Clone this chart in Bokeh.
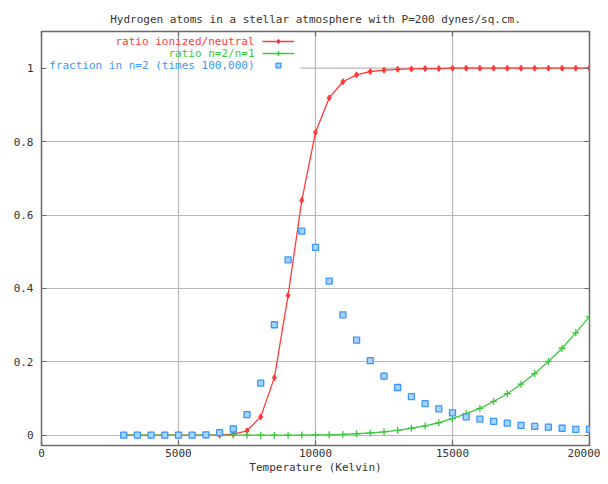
from bokeh.plotting import figure
from bokeh.models import Range1d, FixedTicker, LinearAxis, Legend, LegendItem, Label
from bokeh.embed import file_html
from bokeh.resources import INLINE

# ---------------- data ----------------
temperature = [3000, 3500, 4000, 4500, 5000, 5500, 6000, 6500, 7000, 7500,
               8000, 8500, 9000, 9500, 10000, 10500, 11000, 11500, 12000, 12500,
               13000, 13500, 14000, 14500, 15000, 15500, 16000, 16500, 17000, 17500,
               18000, 18500, 19000, 19500, 20000]

ratio_ionized = [0.0, 0.0, 0.0, 0.0, 0.0, 0.0, 0.0001, 0.0007, 0.003, 0.012,
                 0.050, 0.157, 0.381, 0.640, 0.825, 0.919, 0.963, 0.982, 0.991, 0.995,
                 0.997, 0.998, 0.999, 0.999, 1.0, 1.0, 1.0, 1.0, 1.0, 1.0,
                 1.0, 1.0, 1.0, 1.0, 1.0]

ratio_n2_n1 = [0.0, 0.0, 0.0, 0.0, 0.0, 0.0, 0.0, 0.0, 0.0, 0.0,
               0.0, 0.0001, 0.0002, 0.0004, 0.0009, 0.0015, 0.0025, 0.004, 0.0063, 0.0093,
               0.0134, 0.019, 0.0256, 0.034, 0.045, 0.059, 0.073, 0.092, 0.113, 0.139,
               0.168, 0.201, 0.237, 0.279, 0.323]

fraction_n2 = [0.0, 0.0, 0.0, 0.0, 0.0, 0.0, 0.001, 0.007, 0.017, 0.056,
               0.142, 0.301, 0.478, 0.556, 0.512, 0.420, 0.328, 0.259, 0.203, 0.161,
               0.130, 0.105, 0.086, 0.072, 0.061, 0.050, 0.044, 0.038, 0.033, 0.027,
               0.024, 0.022, 0.019, 0.016, 0.016]

series_labels = ["ratio ionized/neutral", "ratio n=2/n=1", "fraction in n=2 (times 100,000)"]
title_text = "Hydrogen atoms in a stellar atmosphere with P=200 dynes/sq.cm."
x_label = "Temperature (Kelvin)"

x_ticks = [0, 5000, 10000, 15000, 20000]
x_tick_labels = ["0", "5000", "10000", "15000", "20000"]
y_ticks = [0, 0.2, 0.4, 0.6, 0.8, 1]
y_tick_labels = ["0", "0.2", "0.4", "0.6", "0.8", "1"]

# ---------------- style ----------------
FONT = "DejaVu Sans Mono"
FS = "11px"
RED = "#ff3a3a"
GREEN = "#3cc83c"
BLUE = "#3a96ff"
GRID = "#b8b8b8"
FRAME = "#6a6a6a"
TXT = "#333333"

p = figure(width=600, height=476,
           x_range=Range1d(0, 20000), y_range=Range1d(-0.028, 1.1),
           output_backend="svg", toolbar_location=None,
           min_border_left=41, min_border_right=11,
           min_border_top=31, min_border_bottom=30,
           title=title_text)

p.title.text_font = FONT
p.title.text_font_size = FS
p.title.text_font_style = "normal"
p.title.text_color = TXT
p.title.align = "center"
p.title.vertical_align = "top"
p.title.standoff = 0

p.background_fill_color = "white"
p.border_fill_color = "white"
p.outline_line_color = FRAME
p.outline_line_width = 1.5
p.outline_line_alpha = 1.0

bottom_axis = p.below[0]
left_axis = p.left[0]

# axes
bottom_axis.ticker = FixedTicker(ticks=x_ticks)
bottom_axis.major_label_overrides = dict(zip(x_ticks, x_tick_labels))
left_axis.ticker = FixedTicker(ticks=y_ticks)
left_axis.major_label_overrides = dict(zip(y_ticks, y_tick_labels))

right_axis = LinearAxis(ticker=FixedTicker(ticks=y_ticks),
                        major_label_overrides={t: "" for t in y_ticks},
                        major_label_standoff=0)
p.add_layout(right_axis, "right")

# mirrored ticks on top; its (blank) label sets the gap under the title
top_axis = LinearAxis(ticker=FixedTicker(ticks=x_ticks),
                      major_label_overrides={t: "" for t in x_ticks},
                      major_label_standoff=8,
                      axis_label=" ", axis_label_standoff=0,
                      axis_label_text_font_size="1px")
p.add_layout(top_axis, "above")

for ax in [bottom_axis, left_axis, right_axis, top_axis]:
    ax.axis_line_color = None
    ax.major_tick_in = 5
    ax.major_tick_out = 0
    ax.major_tick_line_color = FRAME
    ax.major_tick_line_width = 1.2
    ax.minor_tick_line_color = None
    ax.major_label_text_font = FONT
    ax.major_label_text_color = TXT
    ax.major_label_text_font_size = FS
bottom_axis.major_label_standoff = 3
left_axis.major_label_standoff = 8
bottom_axis.axis_label = x_label
bottom_axis.axis_label_standoff = 1
bottom_axis.axis_label_text_font = FONT
bottom_axis.axis_label_text_font_size = FS
bottom_axis.axis_label_text_font_style = "normal"
bottom_axis.axis_label_text_color = TXT

# grid
p.xgrid.ticker = FixedTicker(ticks=x_ticks[1:-1])
p.ygrid.ticker = FixedTicker(ticks=y_ticks[:-1])
p.grid.grid_line_color = GRID
p.grid.grid_line_width = 1.2

# the y=1 grid line is interrupted by the key box
key_gap_end = 9450
p.segment(x0=[key_gap_end], x1=[x_ticks[-1]], y0=[y_ticks[-1]], y1=[y_ticks[-1]],
          line_color=GRID, line_width=1.2)

# ---------------- series ----------------
r_red_l = p.line(temperature, ratio_ionized, line_color=RED, line_width=1.3)
r_red_p = p.scatter(temperature, ratio_ionized, marker="diamond", size=6,
                    fill_color=RED, line_color=RED)

r_grn_l = p.line(temperature, ratio_n2_n1, line_color=GREEN, line_width=1.3)
r_grn_p = p.scatter(temperature, ratio_n2_n1, marker="cross", size=7,
                    line_color=GREEN, line_width=1.3)

r_blu_p = p.scatter(temperature, fraction_n2, marker="square", size=6,
                    fill_color="#a9d3ff", line_color=BLUE, line_width=1.3)

# ---------------- key ----------------
legend = Legend(items=[LegendItem(label=" ", renderers=[r_red_l, r_red_p]),
                       LegendItem(label=" ", renderers=[r_grn_l, r_grn_p]),
                       LegendItem(label=" ", renderers=[r_blu_p])],
                location=(221, 374), glyph_width=32, glyph_height=12,
                label_height=12, label_width=0, label_standoff=0,
                label_text_font_size="1px", spacing=0, padding=0, margin=0,
                border_line_color=None, background_fill_alpha=0)
p.add_layout(legend)

key_colors = [RED, GREEN, BLUE]
key_rows = [1.0728, 1.0402, 1.0076]
for lab, col, yy in zip(series_labels, key_colors, key_rows):
    p.add_layout(Label(x=7774, y=yy, text=lab, text_align="right",
                       text_baseline="middle", text_font=FONT,
                       text_font_size=FS, text_color=col))

open("out.html", "w").write(file_html(p, INLINE))
